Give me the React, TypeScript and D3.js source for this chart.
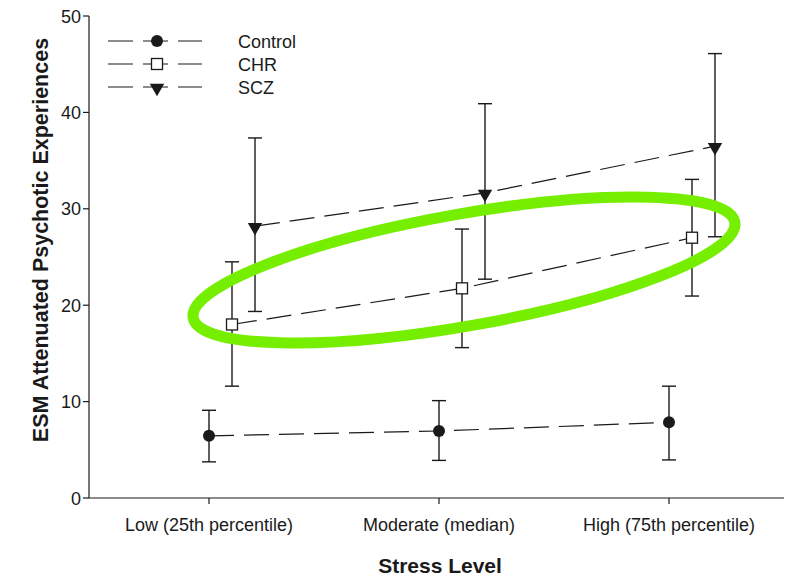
import React from "react";
import * as d3 from "d3";

// Stress level categories on the x axis
const categories = ["Low (25th percentile)", "Moderate (median)", "High (75th percentile)"];
const yTicks = [0, 10, 20, 30, 40, 50];

// Group means and error bar bounds per stress level
const controlMean = [6.45, 6.95, 7.85];
const controlLow = [3.75, 3.9, 3.95];
const controlHigh = [9.1, 10.1, 11.6];

const chrMean = [18.0, 21.75, 27.0];
const chrLow = [11.6, 15.6, 20.95];
const chrHigh = [24.5, 27.9, 33.05];

const sczMean = [28.2, 31.65, 36.5];
const sczLow = [19.35, 22.7, 27.1];
const sczHigh = [37.35, 40.9, 46.1];

const groups = ["Control", "CHR", "SCZ"];

const W = 786;
const H = 580;
const FONT = "'Liberation Sans', Arial, Helvetica, sans-serif";
const INK = "#1a1a1a";

const x = d3.scalePoint<string>().domain(categories).range([209, 669]);
const y = d3.scaleLinear().domain([0, 50]).range([498, 16]);
const xAxisStart = 89;
const xAxisEnd = 784;

const series = [
  { name: groups[0], mean: controlMean, lo: controlLow, hi: controlHigh, offset: 0, marker: "circle" },
  { name: groups[1], mean: chrMean, lo: chrLow, hi: chrHigh, offset: 23, marker: "square" },
  { name: groups[2], mean: sczMean, lo: sczLow, hi: sczHigh, offset: 46, marker: "triangle" },
];

function Marker({ kind, cx, cy }: { kind: string; cx: number; cy: number }) {
  if (kind === "circle") return <circle cx={cx} cy={cy} r={6} fill={INK} />;
  if (kind === "square")
    return <rect x={cx - 5.5} y={cy - 5.5} width={11} height={11} fill="#fff" stroke={INK} strokeWidth={1.3} />;
  const tri = d3.symbol().type(d3.symbolTriangle).size(90)();
  return <path d={tri || ""} transform={`translate(${cx},${cy + 1}) rotate(180)`} fill={INK} />;
}

export default function App() {
  const line = d3
    .line<[number, number]>()
    .x((d) => d[0])
    .y((d) => d[1]);

  return (
    <svg width={W} height={H} style={{ display: "block", position: "absolute", left: 0, top: 0 }} fontFamily={FONT}>
      <rect width={W} height={H} fill="#fff" />

      {/* axes */}
      <line x1={xAxisStart} x2={xAxisStart} y1={y(50)} y2={y(0)} stroke={INK} strokeWidth={1.2} />
      <line x1={xAxisStart} x2={xAxisEnd} y1={y(0)} y2={y(0)} stroke={INK} strokeWidth={1.2} />
      {yTicks.map((t) => (
        <g key={t}>
          <line x1={xAxisStart - 6} x2={xAxisStart} y1={y(t)} y2={y(t)} stroke={INK} strokeWidth={1.2} />
          <text x={xAxisStart - 8} y={y(t) + 6.5} textAnchor="end" fontSize={18} fill={INK}>
            {t}
          </text>
        </g>
      ))}
      {categories.map((c) => (
        <g key={c}>
          <line x1={x(c)} x2={x(c)} y1={y(0)} y2={y(0) + 6} stroke={INK} strokeWidth={1.2} />
          <text x={x(c)} y={531} textAnchor="middle" fontSize={18} fill={INK}>
            {c}
          </text>
        </g>
      ))}
      <text x={440} y={573} textAnchor="middle" fontSize={21} fontWeight="bold" fill={INK}>
        Stress Level
      </text>
      <text
        transform={`translate(48,240) rotate(-90)`}
        textAnchor="middle"
        fontSize={21.5}
        fontWeight="bold"
        fill={INK}
      >
        ESM Attenuated Psychotic Experiences
      </text>

      {/* series lines, error bars and markers */}
      {series.map((s) => {
        const pts: [number, number][] = categories.map((c, i) => [(x(c) as number) + s.offset, y(s.mean[i])]);
        return (
          <g key={s.name}>
            <path d={line(pts) || ""} fill="none" stroke={INK} strokeWidth={1.2} strokeDasharray="25,10" />
            {categories.map((c, i) => {
              const cx = (x(c) as number) + s.offset;
              return (
                <g key={c}>
                  <line x1={cx} x2={cx} y1={y(s.lo[i])} y2={y(s.hi[i])} stroke={INK} strokeWidth={1.4} />
                  <line x1={cx - 7} x2={cx + 7} y1={y(s.lo[i])} y2={y(s.lo[i])} stroke={INK} strokeWidth={1.4} />
                  <line x1={cx - 7} x2={cx + 7} y1={y(s.hi[i])} y2={y(s.hi[i])} stroke={INK} strokeWidth={1.4} />
                  <Marker kind={s.marker} cx={cx} cy={y(s.mean[i])} />
                </g>
              );
            })}
          </g>
        );
      })}

      {/* legend */}
      {series.map((s, i) => {
        const ly = 41 + i * 23;
        return (
          <g key={s.name}>
            <line x1={108} x2={202} y1={ly} y2={ly} stroke={INK} strokeWidth={1.2} strokeDasharray="25,10" />
            <Marker kind={s.marker} cx={157} cy={ly} />
            <text x={238} y={ly + 6.5} fontSize={18} fill={INK}>
              {s.name}
            </text>
          </g>
        );
      })}

      {/* highlight ring */}
      <ellipse
        cx={464}
        cy={270}
        rx={275}
        ry={56}
        transform="rotate(-10 464 270)"
        fill="none"
        stroke="#76ee00"
        strokeWidth={11}
      />
    </svg>
  );
}
